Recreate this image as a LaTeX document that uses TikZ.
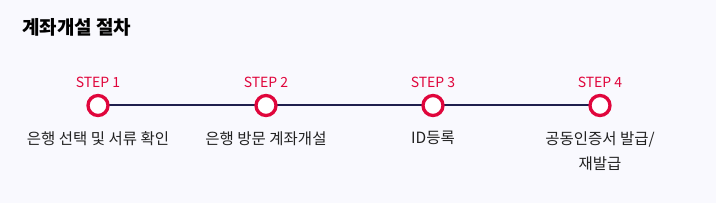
\documentclass[tikz,border=0pt]{standalone}
\usepackage{fontspec}
\setmainfont{Noto Sans CJK KR}
\definecolor{bg}{HTML}{F9F9FE}
\definecolor{stepred}{HTML}{E0063C}
\definecolor{navy}{HTML}{1F1F4E}
\definecolor{txt}{HTML}{222222}
\begin{document}
\begin{tikzpicture}[x=1pt,y=-1pt,
  dot/.style={circle,draw=stepred,line width=3.3pt,fill=white,minimum size=20pt,inner sep=0pt},
  steplbl/.style={text=stepred,font=\fontsize{14}{16}\selectfont,inner sep=0pt},
  desc/.style={text=txt,font=\fontsize{15.5}{25}\selectfont,inner sep=0pt,align=center,anchor=north},
  conn/.style={draw=navy,line width=2pt}]
\fill[bg] (0,0) rectangle (716,203);
\useasboundingbox (0,0) rectangle (716,203);
\node[anchor=west,text=black,font=\fontsize{19}{22}\selectfont\bfseries,inner sep=0pt] (title) at (22,27) {계좌개설 절차};
\coordinate (c1) at (98,105.5);
\coordinate (c2) at (266,105.5);
\coordinate (c3) at (433,105.5);
\coordinate (c4) at (600,105.5);
\draw[conn] (c1) -- (c4);
\foreach \i/\t in {1/STEP 1,2/STEP 2,3/STEP 3,4/STEP 4}{
  \node[dot] (d\i) at (c\i) {};
  \node[steplbl] (s\i) at ([yshift=23pt]c\i) {\t};
}
\node[desc] (l1) at ([yshift=-25.5pt]c1) {은행 선택 및 서류 확인};
\node[desc] (l2) at ([yshift=-25.5pt]c2) {은행 방문 계좌개설};
\node[desc] (l3) at ([yshift=-25.5pt]c3) {ID등록};
\node[desc] (l4) at ([yshift=-25.5pt]c4) {공동인증서 발급/\\재발급};
\end{tikzpicture}
\end{document}
